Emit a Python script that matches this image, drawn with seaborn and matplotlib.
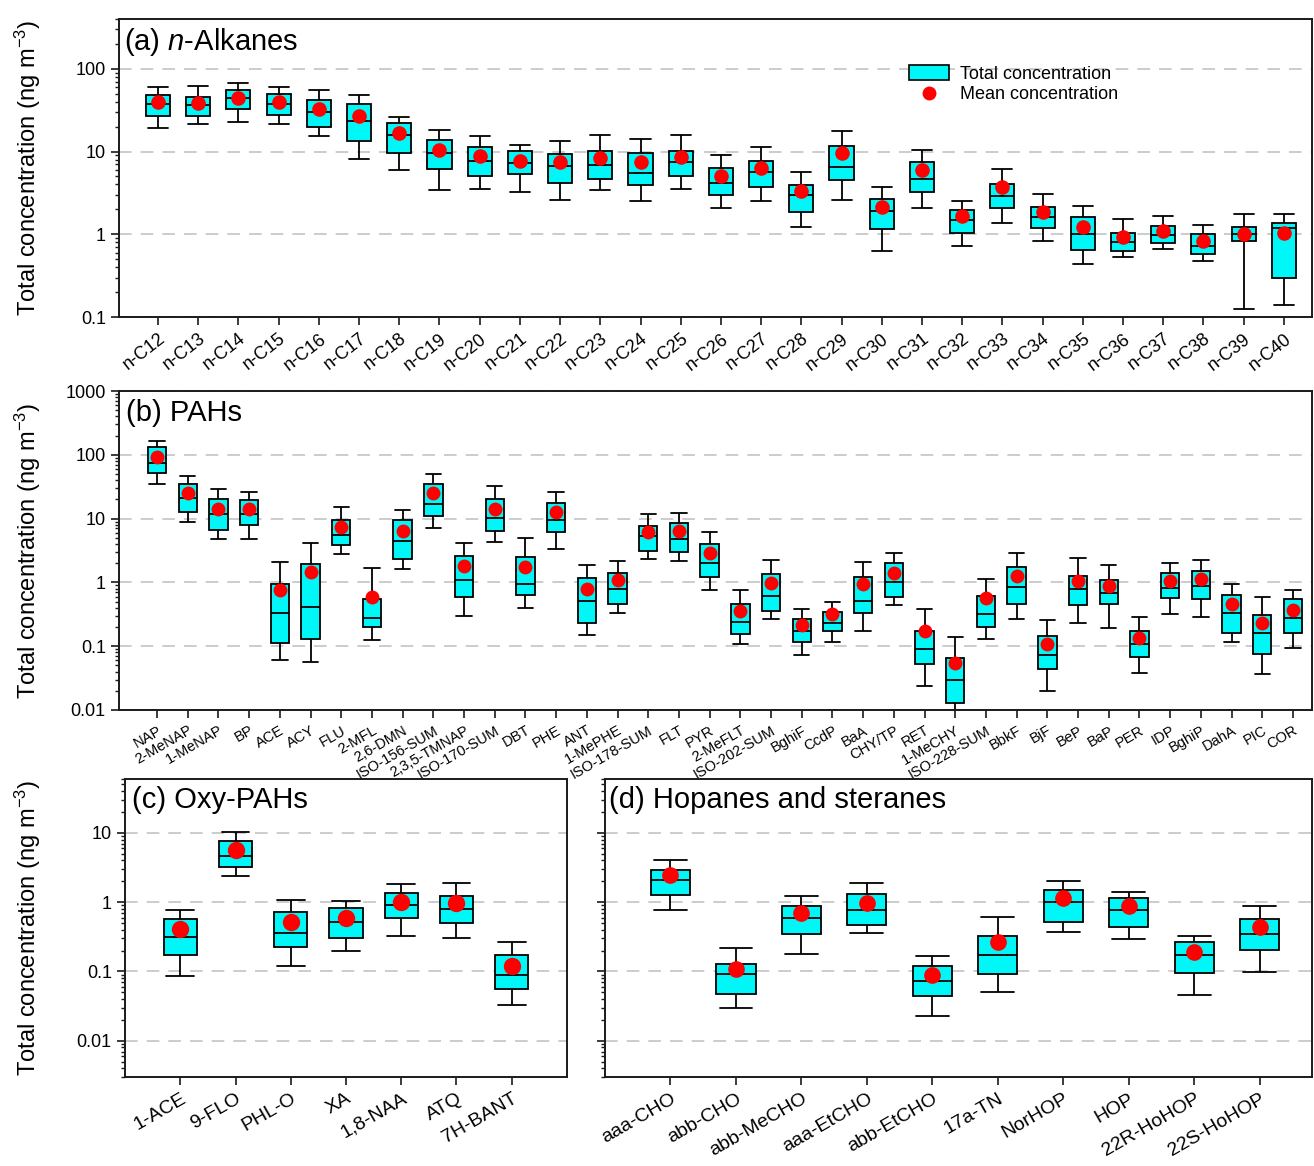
import numpy as np
import pandas as pd
import matplotlib
matplotlib.use("Agg")
import matplotlib.pyplot as plt
from matplotlib.ticker import FuncFormatter, LogLocator, NullFormatter
from matplotlib.patches import Patch
from matplotlib.lines import Line2D
import seaborn as sns

# ---------------- (a) n-alkanes ----------------
ALK_NAMES = ["n-C12", "n-C13", "n-C14", "n-C15", "n-C16", "n-C17", "n-C18", "n-C19",
             "n-C20", "n-C21", "n-C22", "n-C23", "n-C24", "n-C25", "n-C26", "n-C27",
             "n-C28", "n-C29", "n-C30", "n-C31", "n-C32", "n-C33", "n-C34", "n-C35",
             "n-C36", "n-C37", "n-C38", "n-C39", "n-C40"]
ALK_LO = [19.5, 21.3, 23.0, 21.3, 15.3, 8.2, 6.0, 3.4, 3.5, 3.2, 2.6, 3.4, 2.5, 3.5, 2.1,
          2.5, 1.22, 2.6, 0.62, 2.1, 0.72, 1.37, 0.82, 0.44, 0.53, 0.66, 0.48, 0.125, 0.14]
ALK_Q1 = [26.9, 26.9, 32.4, 27.9, 19.6, 13.4, 9.6, 6.2, 5.1, 5.3, 4.2, 4.6, 3.9, 5.1, 3.0,
          3.7, 1.88, 4.5, 1.16, 3.2, 1.05, 2.1, 1.19, 0.64, 0.62, 0.79, 0.58, 0.84, 0.30]
ALK_MED = [37.5, 36.8, 44.3, 37.5, 30.0, 23.4, 15.7, 9.7, 7.7, 7.2, 6.7, 6.9, 5.5, 7.4, 4.2,
           5.7, 3.0, 6.5, 1.93, 4.7, 1.50, 2.87, 1.63, 1.0, 0.81, 0.97, 0.72, 1.02, 1.18]
ALK_Q3 = [48.0, 45.6, 55.8, 49.0, 41.9, 37.5, 22.1, 13.6, 11.4, 10.1, 9.3, 10.1, 9.7, 10.1, 6.4,
          7.6, 3.9, 11.7, 2.7, 7.4, 1.98, 4.1, 2.15, 1.63, 1.05, 1.26, 1.0, 1.24, 1.38]
ALK_HI = [60.0, 61.8, 67.8, 59.6, 54.8, 48.2, 26.2, 18.1, 15.4, 12.1, 13.4, 15.7, 14.0, 15.9, 9.0,
          11.3, 5.7, 17.7, 3.7, 10.4, 2.5, 6.2, 3.06, 2.2, 1.53, 1.66, 1.30, 1.74, 1.74]
ALK_MEAN = [39.7, 38.6, 44.7, 39.7, 33.0, 26.7, 16.6, 10.4, 8.8, 7.7, 7.5, 8.4, 7.5, 8.5, 5.0,
            6.3, 3.3, 9.6, 2.13, 6.0, 1.66, 3.75, 1.88, 1.22, 0.93, 1.10, 0.83, 1.02, 1.05]

# ---------------- (b) PAHs ----------------
PAH_NAMES = ["NAP", "2-MeNAP", "1-MeNAP", "BP", "ACE", "ACY", "FLU", "2-MFL", "2,6-DMN",
             "ISO-156-SUM", "2,3,5-TMNAP", "ISO-170-SUM", "DBT", "PHE", "ANT", "1-MePHE",
             "ISO-178-SUM", "FLT", "PYR", "2-MeFLT", "ISO-202-SUM", "BghiF", "CcdP", "BaA",
             "CHY/TP", "RET", "1-MeCHY", "ISO-228-SUM", "BbkF", "BjF", "BeP", "BaP", "PER",
             "IDP", "BghiP", "DahA", "PIC", "COR"]
PAH_LO = [35.0, 8.9, 4.8, 4.8, 0.061, 0.057, 2.8, 0.123, 1.63, 7.2, 0.297, 4.35, 0.40, 3.33,
          0.151, 0.33, 2.33, 2.15, 0.755, 0.108, 0.271, 0.074, 0.118, 0.171, 0.441, 0.024,
          0.010, 0.128, 0.271, 0.020, 0.227, 0.192, 0.038, 0.32, 0.289, 0.118, 0.037, 0.093]
PAH_Q1 = [52.0, 12.6, 6.7, 8.0, 0.112, 0.132, 3.9, 0.20, 2.36, 10.9, 0.60, 6.5, 0.63, 6.15,
          0.233, 0.46, 3.16, 3.04, 1.2, 0.156, 0.355, 0.117, 0.171, 0.333, 0.585, 0.053,
          0.0131, 0.20, 0.458, 0.044, 0.447, 0.458, 0.067, 0.57, 0.555, 0.163, 0.076, 0.16]
PAH_MED = [73.6, 21.0, 12.0, 12.0, 0.337, 0.41, 5.6, 0.278, 4.4, 17.1, 1.11, 10.3, 0.93, 9.5,
           0.514, 0.79, 5.3, 4.8, 2.02, 0.239, 0.615, 0.173, 0.233, 0.514, 1.0, 0.09,
           0.0297, 0.324, 0.847, 0.074, 0.79, 0.69, 0.108, 0.826, 0.869, 0.337, 0.16, 0.278]
PAH_Q3 = [131.0, 34.6, 20.2, 19.5, 0.95, 1.97, 9.5, 0.555, 9.5, 35.0, 2.64, 20.0, 2.48, 17.3,
          1.17, 1.39, 7.6, 8.4, 3.93, 0.453, 1.36, 0.268, 0.346, 1.2, 2.0, 0.171,
          0.065, 0.615, 1.73, 0.145, 1.28, 1.11, 0.171, 1.41, 1.52, 0.64, 0.312, 0.541]
PAH_HI = [163.0, 46.4, 28.9, 26.1, 2.07, 4.1, 15.3, 1.69, 13.6, 50.0, 4.2, 32.9, 5.0, 26.1,
          1.9, 2.15, 11.8, 12.1, 6.2, 0.755, 2.27, 0.378, 0.50, 2.1, 2.85, 0.378,
          0.138, 1.15, 2.85, 0.255, 2.39, 1.9, 0.282, 2.0, 2.27, 0.96, 0.60, 0.755]
PAH_MEAN = [92.6, 24.8, 14.3, 14.3, 0.755, 1.45, 7.3, 0.59, 6.3, 24.8, 1.82, 14.3, 1.73, 12.6,
            0.80, 1.11, 6.2, 6.3, 2.9, 0.355, 0.99, 0.213, 0.316, 0.94, 1.39, 0.171,
            0.0548, 0.577, 1.24, 0.108, 1.04, 0.89, 0.134, 1.04, 1.15, 0.453, 0.233, 0.369]

# ---------------- (c) Oxy-PAHs ----------------
OXY_NAMES = ["1-ACE", "9-FLO", "PHL-O", "XA", "1,8-NAA", "ATQ", "7H-BANT"]
OXY_LO = [0.0867, 2.36, 0.12, 0.196, 0.325, 0.308, 0.0332]
OXY_Q1 = [0.175, 3.21, 0.226, 0.304, 0.583, 0.494, 0.0558]
OXY_MED = [0.315, 4.62, 0.355, 0.511, 0.916, 0.785, 0.0876]
OXY_Q3 = [0.57, 7.76, 0.718, 0.83, 1.36, 1.23, 0.175]
OXY_HI = [0.768, 10.3, 1.07, 1.04, 1.85, 1.87, 0.264]
OXY_MEAN = [0.405, 5.7, 0.516, 0.589, 1.0, 0.98, 0.12]

# ---------------- (d) Hopanes and steranes ----------------
HOP_NAMES = ["aaa-CHO", "abb-CHO", "abb-MeCHO", "aaa-EtCHO", "abb-EtCHO", "17a-TN",
             "NorHOP", "HOP", "22R-HoHOP", "22S-HoHOP"]
HOP_LO = [0.768, 0.0294, 0.18, 0.364, 0.0231, 0.0514, 0.368, 0.295, 0.0451, 0.0973]
HOP_Q1 = [1.26, 0.0466, 0.352, 0.469, 0.0441, 0.091, 0.523, 0.443, 0.094, 0.206]
HOP_MED = [2.09, 0.091, 0.583, 0.777, 0.0739, 0.172, 1.02, 0.777, 0.174, 0.352]
HOP_Q3 = [2.94, 0.127, 0.877, 1.32, 0.121, 0.326, 1.52, 1.15, 0.264, 0.577]
HOP_HI = [4.04, 0.215, 1.22, 1.89, 0.165, 0.61, 2.0, 1.41, 0.33, 0.867]
HOP_MEAN = [2.44, 0.107, 0.689, 0.98, 0.09, 0.264, 1.14, 0.877, 0.194, 0.443]

BOX_COLOR = "#00F7F7"
MEAN_COLOR = "#FF0000"
YLABEL = "Total concentration (ng m$^{-3}$)"

sns.set_style("ticks")
plt.rcParams["font.family"] = ["Liberation Sans", "DejaVu Sans"]
plt.rcParams["mathtext.fontset"] = "custom"
plt.rcParams["mathtext.rm"] = "Liberation Sans"
plt.rcParams["mathtext.it"] = "Liberation Sans:italic"
plt.rcParams["text.color"] = "black"
plt.rcParams["axes.labelcolor"] = "black"
plt.rcParams["axes.edgecolor"] = "#1a1a1a"
plt.rcParams["axes.linewidth"] = 1.4
plt.rcParams["xtick.color"] = "#1a1a1a"
plt.rcParams["ytick.color"] = "#1a1a1a"
plt.rcParams["xtick.labelcolor"] = "black"
plt.rcParams["ytick.labelcolor"] = "black"


def box_frame(names, lo, q1, med, q3, hi):
    """Five points per compound whose quartiles/extremes are exactly the box statistics."""
    rows = []
    for n, a, b, c, d, e in zip(names, lo, q1, med, q3, hi):
        for v in (a, b, c, d, e):
            rows.append((n, v))
    return pd.DataFrame(rows, columns=["compound", "conc"])


def draw_panel(ax, names, lo, q1, med, q3, hi, mean, ylim, xlim, dot, xfs, rot):
    ax.set_yscale("log")
    df = box_frame(names, lo, q1, med, q3, hi)
    sns.boxplot(data=df, x="compound", y="conc", order=names, ax=ax,
                whis=(0, 100), width=0.6, color=BOX_COLOR, saturation=1,
                linecolor="black", linewidth=1.3, showfliers=False, capwidths=0.5)
    sns.stripplot(x=names, y=mean, order=names, jitter=False, color=MEAN_COLOR,
                  size=dot, linewidth=0, ax=ax, zorder=5)
    ax.set_ylim(*ylim)
    ax.set_xlim(*xlim)
    ax.set_xlabel("")
    ax.set_ylabel("")
    ax.set_axisbelow(True)
    ax.yaxis.grid(True, which="major", linestyle=(0, (7, 5)), color="#c8c8c8", lw=1.3)
    ax.xaxis.grid(False)
    ax.yaxis.set_major_locator(LogLocator(base=10, numticks=12))
    ax.yaxis.set_minor_locator(LogLocator(base=10, subs=np.arange(2, 10), numticks=12))
    ax.yaxis.set_major_formatter(FuncFormatter(lambda v, _: f"{v:g}"))
    ax.yaxis.set_minor_formatter(NullFormatter())
    ax.tick_params(axis="y", which="major", length=6, width=1.2, labelsize=13)
    ax.tick_params(axis="y", which="minor", length=3, width=1.0)
    ax.tick_params(axis="x", which="major", length=6, width=1.2, labelsize=xfs)
    for s in ax.spines.values():
        s.set_visible(True)
    plt.setp(ax.get_xticklabels(), rotation=rot, ha="right", rotation_mode="anchor")


fig = plt.figure(figsize=(13.14, 11.66), dpi=100)
W, H = 1314.0, 1166.0


def axes_px(left, top, right, bottom):
    return fig.add_axes([left / W, 1 - bottom / H, (right - left) / W, (bottom - top) / H])


ax_a = axes_px(119, 19, 1312, 317)
ax_b = axes_px(119, 391, 1312, 710)
ax_c = axes_px(125, 779, 567, 1077)
ax_d = axes_px(605, 779, 1312, 1077)

draw_panel(ax_a, ALK_NAMES, ALK_LO, ALK_Q1, ALK_MED, ALK_Q3, ALK_HI, ALK_MEAN,
           (0.1, 400), (-0.97, 28.7), 10.5, 13, 38)
draw_panel(ax_b, PAH_NAMES, PAH_LO, PAH_Q1, PAH_MED, PAH_Q3, PAH_HI, PAH_MEAN,
           (0.01, 1000), (-1.24, 37.62), 10, 10.5, 30)
draw_panel(ax_c, OXY_NAMES, OXY_LO, OXY_Q1, OXY_MED, OXY_Q3, OXY_HI, OXY_MEAN,
           (0.003, 60), (-1.0, 7.0), 12.5, 14, 30)
draw_panel(ax_d, HOP_NAMES, HOP_LO, HOP_Q1, HOP_MED, HOP_Q3, HOP_HI, HOP_MEAN,
           (0.003, 60), (-1.0, 9.8), 12, 14, 30)
ax_d.tick_params(axis="y", labelleft=False)

# panel titles
ax_a.text(0.004, 0.975, "(a) $\\it{n}$-Alkanes", transform=ax_a.transAxes,
          fontsize=21, va="top", ha="left")
ax_b.text(0.006, 0.975, "(b) PAHs", transform=ax_b.transAxes,
          fontsize=21, va="top", ha="left")
ax_c.text(0.015, 0.975, "(c) Oxy-PAHs", transform=ax_c.transAxes,
          fontsize=21, va="top", ha="left")
ax_d.text(0.006, 0.975, "(d) Hopanes and steranes", transform=ax_d.transAxes,
          fontsize=21, va="top", ha="left")

# y labels
for ax, left, width in ((ax_a, 119, 1193), (ax_b, 119, 1193), (ax_c, 125, 442)):
    ax.set_ylabel(YLABEL, fontsize=17)
    ax.yaxis.set_label_coords((43 - left) / width, 0.5)

# legend
handles = [Patch(facecolor=BOX_COLOR, edgecolor="black", linewidth=1.2),
           Line2D([], [], marker="o", linestyle="none", color=MEAN_COLOR,
                  markersize=10, markeredgewidth=0)]
ax_a.legend(handles, ["Total concentration", "Mean concentration"],
            loc="upper left", bbox_to_anchor=(0.655, 0.875), frameon=False,
            fontsize=13, handlelength=2.2, handleheight=0.9, handletextpad=0.6,
            labelspacing=0.15, borderpad=0)

fig.savefig("out.png", dpi=100)
